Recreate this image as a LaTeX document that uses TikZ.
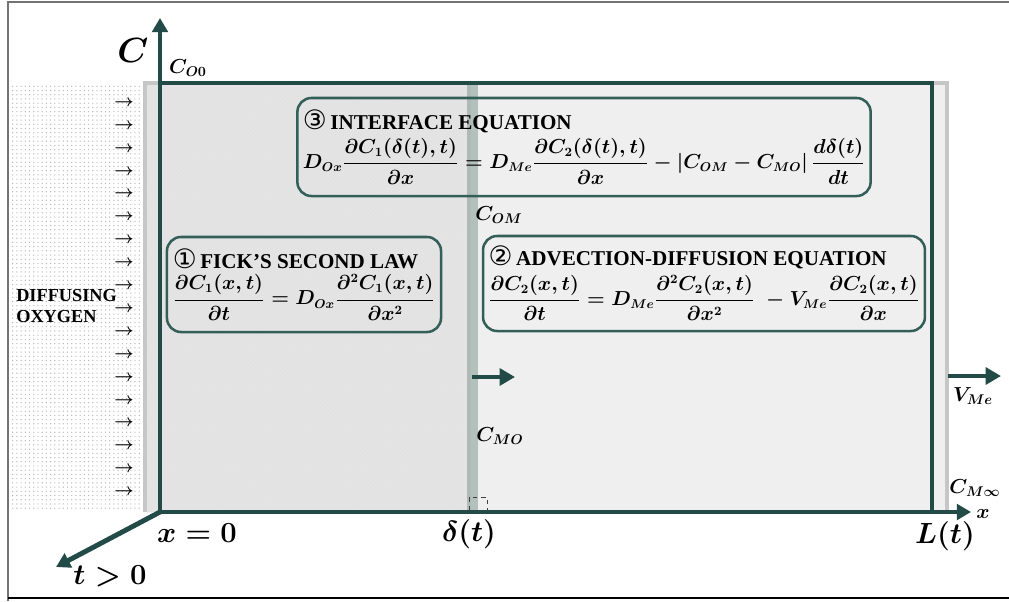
\documentclass[tikz,border=0pt]{standalone}
\usepackage{amsmath,amssymb}
\usepackage[no-math]{fontspec}
\setmainfont{Liberation Serif}
\newfontfamily\circfont{DejaVu Sans}
\usetikzlibrary{arrows.meta,positioning,patterns,calc}
\definecolor{axis}{HTML}{224B47}
\definecolor{boxc}{HTML}{345F58}
\definecolor{rim}{HTML}{C6C6C6}
\definecolor{metal}{HTML}{EFEFEF}
\definecolor{oxide}{HTML}{E4E4E4}
\definecolor{strip}{HTML}{B2C1BC}
\newcommand{\circnum}[1]{{\mdseries\fontsize{19}{18}\selectfont\circfont #1}\,}
\newcommand{\eqsize}{\fontsize{13.3}{16}\selectfont}
\tikzset{
  ax/.style    ={-{Triangle[length=10pt,width=11pt]},line width=3.5pt,draw=axis},
  frm/.style   ={line width=3.5pt,draw=axis},
  mv/.style    ={-{Triangle[length=11pt,width=12pt]},line width=3.5pt,draw=axis},
  eqbox/.style ={draw=boxc,line width=1.8pt,rounded corners=10pt,align=left,
                 inner sep=4pt,font=\fontsize{15}{18}\selectfont\bfseries\boldmath},
  lbl/.style   ={font=\fontsize{22}{24}\selectfont\boldmath,inner sep=1pt},
  sm/.style    ={font=\fontsize{14}{16}\selectfont\boldmath,inner sep=1pt},
  flow/.style  ={font=\fontsize{13}{13}\selectfont\boldmath,inner sep=0pt},
}

\begin{document}
\begin{tikzpicture}[x=0.025cm,y=-0.025cm]
  \useasboundingbox (0,0) rectangle (1009,601);

  % --- page frame ---
  \draw[black!55,line width=0.8pt] (8,601) -- (8,2) -- (1009,2);
  \draw[black,line width=1.4pt] (8,598) -- (1009,598);

  % --- regions ---
  \fill[pattern=dots,pattern color=black!28] (12,85) rectangle (140,510);
  \fill[oxide] (145,83) rectangle (472,512);
  \fill[pattern=crosshatch dots,pattern color=black!12] (145,83) rectangle (472,512);
  \fill[metal] (472,83) rectangle (945,512);
  \fill[strip] (467,83) rectangle (478,512);
  \fill[strip!80!black!70] (467,83) rectangle (471,512);
  \draw[rim,line width=3.5pt] (145,512) -- (145,83) -- (947,83) -- (947,512);
  \draw[black!75,dashed,line width=0.5pt] (469,510) -- (469,497) -- (487,497) -- (487,510);

  % --- axes and frame ---
  \coordinate (O) at (160,512);
  \coordinate (ctop) at (160,18);
  \coordinate (xend) at (971,512);
  \coordinate (tend) at (56,567);
  \coordinate (tl) at (160,83);
  \coordinate (tr) at (932,83);
  \coordinate (br) at (932,512);
  \draw[frm] (tl) -- (tr) -- (br);
  \draw[ax] (O) -- (ctop);
  \draw[ax] ([xshift=-1.7pt]O) -- (xend);
  \draw[ax,shorten <=-1pt] (O) -- (tend);

  % moving interface and moving metal boundary
  \coordinate (ifs) at (472,377);
  \coordinate (ife) at (515,377);
  \coordinate (vms) at (948,376);
  \coordinate (vme) at (1001,376);
  \draw[mv] (ifs) -- (ife);
  \draw[mv] (vms) -- (vme);

  % --- incoming oxygen ---
  \foreach \i in {0,...,17}
    \node[flow] (flow\i) at (124,{103+22.9*\i}) {$\boldsymbol{\rightarrow}$};
  \node[anchor=west,align=left,inner sep=0pt,
        font=\fontsize{13}{15.5}\selectfont\bfseries] (oxy) at (16,306)
        {DIFFUSING\\OXYGEN};

  % --- equation boxes ---
  \node[eqbox,minimum width=14cm,minimum height=2.45cm] (iface) at (584,147)
        {\circnum{③}INTERFACE EQUATION\\[3pt]
         \eqsize$\displaystyle D_{Ox}\frac{\partial C_1(\delta(t),t)}{\partial x}
          =D_{Me}\frac{\partial C_2(\delta(t),t)}{\partial x}
          -|C_{OM}-C_{MO}|\,\frac{d\delta(t)}{dt}$};
  \node[eqbox,minimum width=6.85cm,minimum height=2.375cm] (fick) at (304,284.5)
        {\circnum{①}FICK'S SECOND LAW\\[3pt]
         \eqsize$\displaystyle \frac{\partial C_1(x,t)}{\partial t}
          =D_{Ox}\frac{\partial^2 C_1(x,t)}{\partial x^2}$};
  \node[eqbox,minimum width=10.7cm,minimum height=2.375cm] (advd) at (704,283.5)
        {\circnum{②}ADVECTION-DIFFUSION EQUATION\\[3pt]
         \eqsize$\displaystyle \frac{\partial C_2(x,t)}{\partial t}
          =D_{Me}\frac{\partial^2 C_2(x,t)}{\partial x^2}
          \;-V_{Me}\frac{\partial C_2(x,t)}{\partial x}$};

  % --- labels ---
  \node[lbl,font=\fontsize{25}{27}\selectfont\boldmath,left=7pt of ctop,yshift=-0.8cm] (clab) {$C$};
  \node[sm] (co0) at (188,68) {$C_{O0}$};
  \node[sm] (com) at (499,215) {$C_{OM}$};
  \node[sm] (cmo) at (500,436) {$C_{MO}$};
  \node[sm] (vlab) at (973,396) {$V_{Me}$};
  \node[sm] (cinf) at (975,488) {$C_{M\infty}$};
  \node[sm] (xlab) at (983,514) {$x$};
  \node[lbl] (x0) at (197,533) {$x=0$};
  \node[lbl] (dlt) at (469,534) {$\delta(t)$};
  \node[lbl] (lt) at (945,536) {$L(t)$};
  \node[lbl] (tpos) at (110,576) {$t>0$};
\end{tikzpicture}
\end{document}
